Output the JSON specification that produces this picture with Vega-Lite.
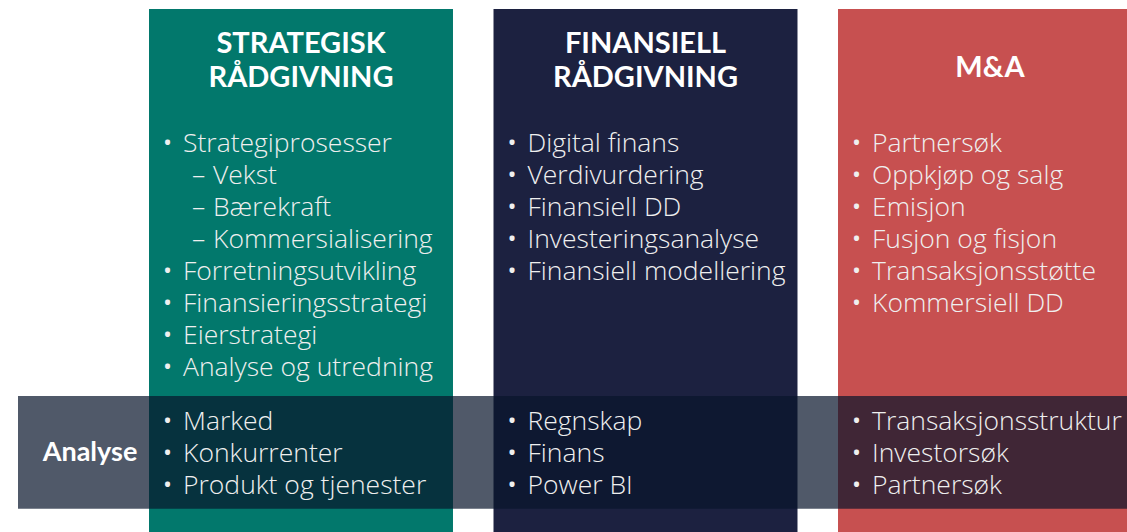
{
  "$schema": "https://vega.github.io/schema/vega-lite/v6.json",
  "width": 1127,
  "height": 532,
  "padding": 0,
  "autosize": {"type": "none"},
  "background": "#ffffff",
  "config": {"view": {"stroke": null}, "axis": {"disable": true}, "legend": {"disable": true}},
  "datasets": {
    "kolonner": [
      {"tjeneste": "Strategisk rådgivning", "tittel": ["STRATEGISK", "RÅDGIVNING"]},
      {"tjeneste": "Finansiell rådgivning", "tittel": ["FINANSIELL", "RÅDGIVNING"]},
      {"tjeneste": "M&A", "tittel": ["M&A"]}
    ],
    "punkter": [
      {"tjeneste": "Strategisk rådgivning", "seksjon": "Tjenester", "linje": 0, "niva": 0, "tekst": "Strategiprosesser"},
      {"tjeneste": "Strategisk rådgivning", "seksjon": "Tjenester", "linje": 1, "niva": 1, "tekst": "Vekst"},
      {"tjeneste": "Strategisk rådgivning", "seksjon": "Tjenester", "linje": 2, "niva": 1, "tekst": "Bærekraft"},
      {"tjeneste": "Strategisk rådgivning", "seksjon": "Tjenester", "linje": 3, "niva": 1, "tekst": "Kommersialisering"},
      {"tjeneste": "Strategisk rådgivning", "seksjon": "Tjenester", "linje": 4, "niva": 0, "tekst": "Forretningsutvikling"},
      {"tjeneste": "Strategisk rådgivning", "seksjon": "Tjenester", "linje": 5, "niva": 0, "tekst": "Finansieringsstrategi"},
      {"tjeneste": "Strategisk rådgivning", "seksjon": "Tjenester", "linje": 6, "niva": 0, "tekst": "Eierstrategi"},
      {"tjeneste": "Strategisk rådgivning", "seksjon": "Tjenester", "linje": 7, "niva": 0, "tekst": "Analyse og utredning"},
      {"tjeneste": "Finansiell rådgivning", "seksjon": "Tjenester", "linje": 0, "niva": 0, "tekst": "Digital finans"},
      {"tjeneste": "Finansiell rådgivning", "seksjon": "Tjenester", "linje": 1, "niva": 0, "tekst": "Verdivurdering"},
      {"tjeneste": "Finansiell rådgivning", "seksjon": "Tjenester", "linje": 2, "niva": 0, "tekst": "Finansiell DD"},
      {"tjeneste": "Finansiell rådgivning", "seksjon": "Tjenester", "linje": 3, "niva": 0, "tekst": "Investeringsanalyse"},
      {"tjeneste": "Finansiell rådgivning", "seksjon": "Tjenester", "linje": 4, "niva": 0, "tekst": "Finansiell modellering"},
      {"tjeneste": "M&A", "seksjon": "Tjenester", "linje": 0, "niva": 0, "tekst": "Partnersøk"},
      {"tjeneste": "M&A", "seksjon": "Tjenester", "linje": 1, "niva": 0, "tekst": "Oppkjøp og salg"},
      {"tjeneste": "M&A", "seksjon": "Tjenester", "linje": 2, "niva": 0, "tekst": "Emisjon"},
      {"tjeneste": "M&A", "seksjon": "Tjenester", "linje": 3, "niva": 0, "tekst": "Fusjon og fisjon"},
      {"tjeneste": "M&A", "seksjon": "Tjenester", "linje": 4, "niva": 0, "tekst": "Transaksjonsstøtte"},
      {"tjeneste": "M&A", "seksjon": "Tjenester", "linje": 5, "niva": 0, "tekst": "Kommersiell DD"},
      {"tjeneste": "Strategisk rådgivning", "seksjon": "Analyse", "linje": 0, "niva": 0, "tekst": "Marked"},
      {"tjeneste": "Strategisk rådgivning", "seksjon": "Analyse", "linje": 1, "niva": 0, "tekst": "Konkurrenter"},
      {"tjeneste": "Strategisk rådgivning", "seksjon": "Analyse", "linje": 2, "niva": 0, "tekst": "Produkt og tjenester"},
      {"tjeneste": "Finansiell rådgivning", "seksjon": "Analyse", "linje": 0, "niva": 0, "tekst": "Regnskap"},
      {"tjeneste": "Finansiell rådgivning", "seksjon": "Analyse", "linje": 1, "niva": 0, "tekst": "Finans"},
      {"tjeneste": "Finansiell rådgivning", "seksjon": "Analyse", "linje": 2, "niva": 0, "tekst": "Power BI"},
      {"tjeneste": "M&A", "seksjon": "Analyse", "linje": 0, "niva": 0, "tekst": "Transaksjonsstruktur"},
      {"tjeneste": "M&A", "seksjon": "Analyse", "linje": 1, "niva": 0, "tekst": "Investorsøk"},
      {"tjeneste": "M&A", "seksjon": "Analyse", "linje": 2, "niva": 0, "tekst": "Partnersøk"}
    ],
    "band": [{"omrade": "Analyse"}]
  },
  "encoding": {
    "x": {
      "field": "tjeneste", "type": "nominal",
      "scale": {"type": "band", "domain": ["Strategisk rådgivning", "Finansiell rådgivning", "M&A"], "range": [149, 1142], "paddingInner": 0.1176, "paddingOuter": 0},
      "axis": null
    }
  },
  "layer": [
    {
      "data": {"name": "kolonner"},
      "mark": {"type": "rect"},
      "encoding": {
        "y": {"datum": -4.22, "type": "quantitative", "scale": {"domain": [-4.5, 12.125], "reverse": true, "nice": false, "zero": false}},
        "y2": {"datum": 12.3},
        "fill": {"field": "tjeneste", "type": "nominal", "scale": {"domain": ["Strategisk rådgivning", "Finansiell rådgivning", "M&A"], "range": ["#02786C", "#1C2140", "#C75050"]}, "legend": null}
      }
    },
    {
      "data": {"name": "kolonner"},
      "transform": [{"filter": "length(datum.tittel) > 1"}],
      "mark": {"type": "text", "font": "Lato", "fontWeight": "bold", "fontSize": 29, "lineHeight": 34, "color": "#ffffff", "align": "center", "baseline": "middle"},
      "encoding": {
        "x": {"field": "tjeneste", "type": "nominal", "bandPosition": 0.5},
        "y": {"datum": -3.125, "type": "quantitative"},
        "text": {"field": "tittel"}
      }
    },
    {
      "data": {"name": "kolonner"},
      "transform": [{"filter": "length(datum.tittel) == 1"}],
      "mark": {"type": "text", "font": "Lato", "fontWeight": "bold", "fontSize": 29, "lineHeight": 34, "color": "#ffffff", "align": "center", "baseline": "middle", "dy": 24},
      "encoding": {
        "x": {"field": "tjeneste", "type": "nominal", "bandPosition": 0.5},
        "y": {"datum": -3.125, "type": "quantitative"},
        "text": {"field": "tittel"}
      }
    },
    {
      "data": {"name": "punkter"},
      "transform": [{"filter": "datum.seksjon == 'Tjenester' && datum.niva == 0"}],
      "mark": {"type": "text", "font": "Open Sans", "fontWeight": "normal", "fontSize": 24, "color": "#EFEFEF", "align": "left", "baseline": "middle", "dx": 14},
      "encoding": {
        "x": {"field": "tjeneste", "type": "nominal", "bandPosition": 0},
        "y": {"field": "linje", "type": "quantitative"},
        "text": {"value": "•"}
      }
    },
    {
      "data": {"name": "punkter"},
      "transform": [{"filter": "datum.seksjon == 'Tjenester' && datum.niva == 0"}],
      "mark": {"type": "text", "font": "Open Sans", "fontWeight": 300, "fontSize": 26.5, "color": "#EFEFEF", "align": "left", "baseline": "middle", "dx": 34},
      "encoding": {
        "x": {"field": "tjeneste", "type": "nominal", "bandPosition": 0},
        "y": {"field": "linje", "type": "quantitative"},
        "text": {"field": "tekst"}
      }
    },
    {
      "data": {"name": "punkter"},
      "transform": [{"filter": "datum.seksjon == 'Tjenester' && datum.niva == 1"}],
      "mark": {"type": "text", "font": "Open Sans", "fontWeight": 300, "fontSize": 26.5, "color": "#EFEFEF", "align": "left", "baseline": "middle", "dx": 43},
      "encoding": {
        "x": {"field": "tjeneste", "type": "nominal", "bandPosition": 0},
        "y": {"field": "linje", "type": "quantitative"},
        "text": {"value": "–"}
      }
    },
    {
      "data": {"name": "punkter"},
      "transform": [{"filter": "datum.seksjon == 'Tjenester' && datum.niva == 1"}],
      "mark": {"type": "text", "font": "Open Sans", "fontWeight": 300, "fontSize": 26.5, "color": "#EFEFEF", "align": "left", "baseline": "middle", "dx": 64},
      "encoding": {
        "x": {"field": "tjeneste", "type": "nominal", "bandPosition": 0},
        "y": {"field": "linje", "type": "quantitative"},
        "text": {"field": "tekst"}
      }
    },
    {
      "data": {"name": "band"},
      "mark": {"type": "rect", "color": "#08152B", "opacity": 0.71, "x": 18, "x2": 1140},
      "encoding": {
        "x": null,
        "y": {"datum": 7.875, "type": "quantitative"},
        "y2": {"datum": 11.4}
      }
    },
    {
      "data": {"name": "band"},
      "mark": {"type": "text", "font": "Lato", "fontWeight": "bold", "fontSize": 27, "color": "#ffffff", "align": "center", "baseline": "middle", "x": 90},
      "encoding": {
        "x": null,
        "y": {"datum": 9.66, "type": "quantitative"},
        "text": {"field": "omrade"}
      }
    },
    {
      "data": {"name": "punkter"},
      "transform": [{"filter": "datum.seksjon == 'Analyse'"}],
      "mark": {"type": "text", "font": "Open Sans", "fontWeight": "normal", "fontSize": 24, "color": "#EFEFEF", "align": "left", "baseline": "middle", "dx": 14, "dy": 278},
      "encoding": {
        "x": {"field": "tjeneste", "type": "nominal", "bandPosition": 0},
        "y": {"field": "linje", "type": "quantitative"},
        "text": {"value": "•"}
      }
    },
    {
      "data": {"name": "punkter"},
      "transform": [{"filter": "datum.seksjon == 'Analyse'"}],
      "mark": {"type": "text", "font": "Open Sans", "fontWeight": 300, "fontSize": 26.5, "color": "#EFEFEF", "align": "left", "baseline": "middle", "dx": 34, "dy": 278},
      "encoding": {
        "x": {"field": "tjeneste", "type": "nominal", "bandPosition": 0},
        "y": {"field": "linje", "type": "quantitative"},
        "text": {"field": "tekst"}
      }
    }
  ]
}
